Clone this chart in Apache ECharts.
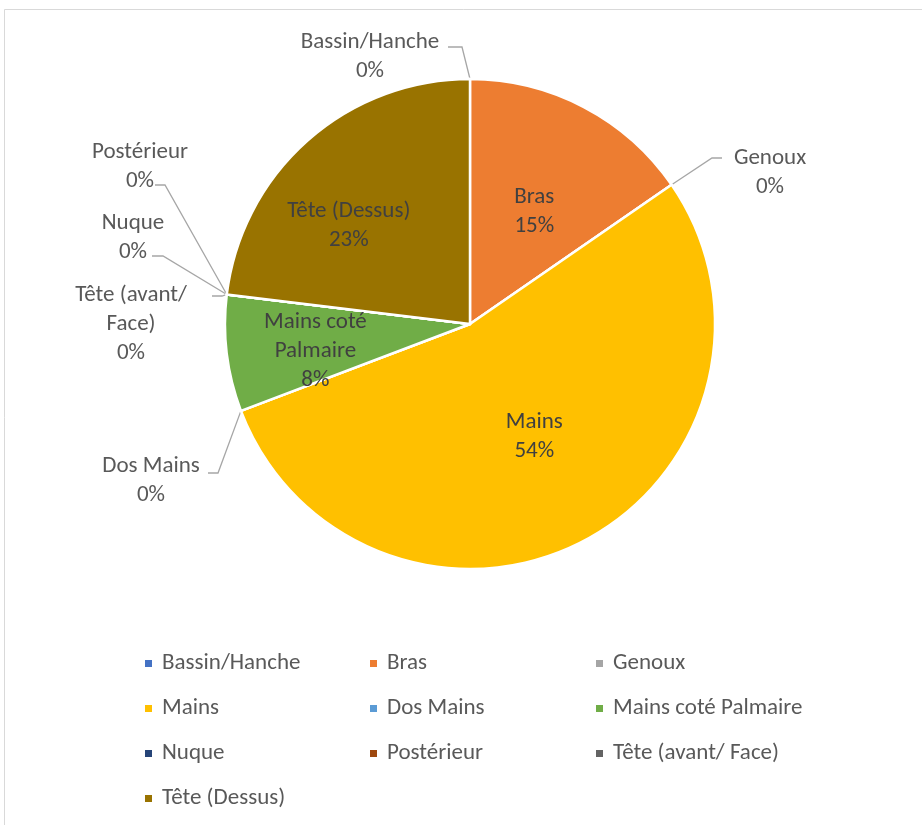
<!DOCTYPE html>
<html><head><meta charset="utf-8">
<script src="https://cdn.jsdelivr.net/npm/echarts@6/dist/echarts.min.js"></script>
<style>html,body{margin:0;padding:0;background:#fff}#c{width:922px;height:825px}</style>
</head><body><div id="c"></div>
<script>
const categories = ['Bassin/Hanche','Bras','Genoux','Mains','Dos Mains','Mains coté Palmaire','Nuque','Postérieur','Tête (avant/ Face)','Tête (Dessus)'];
const values = [0, 2, 0, 7, 0, 1, 0, 0, 0, 3];
const colors = ['#4472C4','#ED7D31','#A5A5A5','#FFC000','#5B9BD5','#70AD47','#264478','#9E480E','#636363','#997300'];
const labelText = ['Bassin/Hanche','Bras','Genoux','Mains','Dos Mains','Mains coté\nPalmaire','Nuque','Postérieur','Tête (avant/\nFace)','Tête (Dessus)'];
const legendCols = [
  ['Bassin/Hanche','Mains','Nuque','Tête (Dessus)'],
  ['Bras','Dos Mains','Postérieur'],
  ['Genoux','Mains coté Palmaire','Tête (avant/ Face)']
];

const FONT = 'Calibri, Carlito, Lato, sans-serif';
const FS = 23;
const cx = 470, cy = 324, R = 245;
// label layout tweaks (offsets relative to pie centre for outside labels, dx/dy for inside)
const insideShift = {1:[6,-1], 3:[6,2], 5:[-30,12], 9:[-38,-4]};
const outsidePlace = {
  0:{lx:-100, ly:-267, bend:[-8,-277], end:[-22,-277]},
  2:{lx:300, ly:-151, bend:[242,-166], end:[252,-166]},
  4:{lx:-319, ly:157, bend:[-252,149], end:[-262,149]},
  6:{lx:-337, ly:-86, bend:[-307,-68], end:[-318,-68]},
  7:{lx:-330, ly:-157, bend:[-305,-139], end:[-315,-139]},
  8:{lx:-339, ly:0, bend:[-248,-28], end:[-258,-28]}
};

const data = categories.map((n,i)=>{
  const d = {name:n, value:values[i], itemStyle:{color:colors[i]}};
  if (values[i] === 0) {
    d.label = {position:'outside', color:'#595959'};
    d.labelLine = {show:true};
  }
  return d;
});

const chart = echarts.init(document.getElementById('c'), null, {renderer:'canvas'});
chart.setOption({
  animation:false,
  backgroundColor:'#fff',
  graphic:[{type:'rect', shape:{x:4.5, y:9.5, width:940, height:840}, style:{fill:'none', stroke:'#D9D9D9', lineWidth:1}, silent:true, z:-10}],
  legend: legendCols.map((col, k)=>({
    data: col,
    orient:'vertical',
    left:[143,368,594][k],
    top:652,
    height:250,
    padding:0,
    itemGap:22,
    itemWidth:9, itemHeight:9,
    icon:'rect',
    selectedMode:false,
    textStyle:{fontFamily:FONT, fontSize:FS, color:'#595959', lineHeight:23, padding:[0,0,0,4]}
  })),
  series:[{
    type:'pie',
    center:[cx, cy],
    radius:R,
    startAngle:90,
    clockwise:true,
    avoidLabelOverlap:false,
    itemStyle:{borderColor:'#fff', borderWidth:2.5},
    label:{
      show:true, position:'inside',
      fontFamily:FONT, fontSize:FS, lineHeight:29, color:'#404040',
      formatter:p=>labelText[p.dataIndex] + '\n' + Math.round(p.percent) + '%'
    },
    labelLine:{show:false, lineStyle:{color:'#A6A6A6', width:1.3}, length:10, length2:10},
    emphasis:{disabled:true},
    labelLayout:function(p){
      const i = p.dataIndex;
      if (insideShift[i]) return {dx:insideShift[i][0], dy:insideShift[i][1]};
      const o = outsidePlace[i];
      if (!o) return {};
      const start = p.labelLinePoints ? p.labelLinePoints[0] : [cx, cy - R];
      return {
        x: cx + o.lx, y: cy + o.ly, align:'center', verticalAlign:'middle',
        labelLinePoints:[start, [cx+o.bend[0], cy+o.bend[1]], [cx+o.end[0], cy+o.end[1]]]
      };
    },
    data:data
  }]
});
</script></body></html>
